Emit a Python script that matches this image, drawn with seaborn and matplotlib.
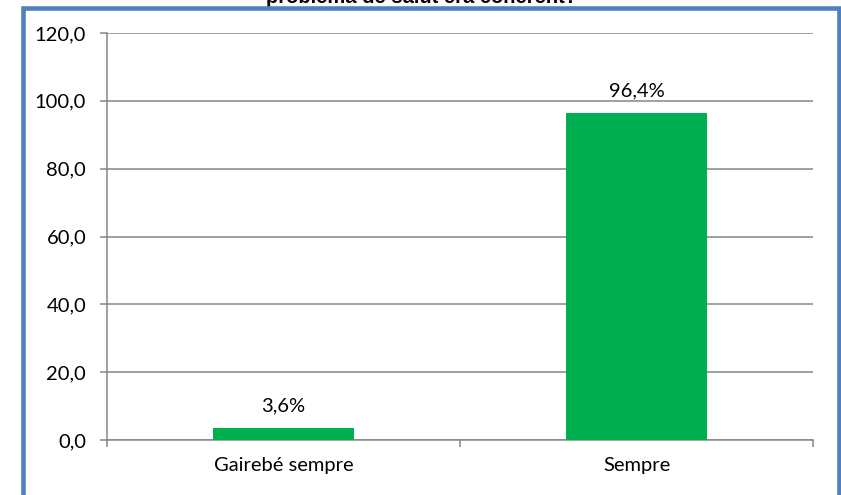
import matplotlib
matplotlib.use("Agg")
import matplotlib.pyplot as plt
import matplotlib.patches as patches
import seaborn as sns
import pandas as pd

# data
categories = ["Gairebé sempre", "Sempre"]
values = [3.6, 96.4]
yticks = [0, 20, 40, 60, 80, 100, 120]
title = "problema de salut era coherent?"

df = pd.DataFrame({"cat": categories, "val": values})

sns.set_style("white")
plt.rcParams["font.family"] = ["Lato", "DejaVu Sans"]
plt.rcParams["text.color"] = "black"
plt.rcParams["xtick.color"] = "black"
plt.rcParams["ytick.color"] = "black"

fig = plt.figure(figsize=(8.41, 4.95), dpi=100)
ax = fig.add_axes([107 / 841, 55 / 495, 706 / 841, 407 / 495])

sns.barplot(data=df, x="cat", y="val", color="#00B050", width=0.4,
            saturation=1, linewidth=0, ax=ax, zorder=3)

ax.set_xlim(-0.5, 1.5)
ax.set_ylim(0, 120)
ax.set_yticks(yticks)
ax.set_yticklabels([f"{t:.1f}".replace(".", ",") for t in yticks], fontsize=14.5)
ax.yaxis.grid(True, color="#868686", linewidth=1.1, zorder=0)
ax.set_axisbelow(True)

# category boundaries as major ticks, labels on minor ticks
ax.set_xticks([-0.5, 0.5, 1.5])
ax.set_xticklabels(["", "", ""])
ax.set_xticks([0, 1], minor=True)
ax.set_xticklabels(categories, minor=True, fontsize=14.5)
ax.tick_params(axis="x", which="major", length=5, color="#868686", width=1.1, direction="out", bottom=True)
ax.tick_params(axis="x", which="minor", length=0, pad=12)
ax.tick_params(axis="y", length=5, color="#868686", width=1.1, direction="out", left=True, pad=10)

for s in ["top", "right"]:
    ax.spines[s].set_visible(False)
for s in ["left", "bottom"]:
    ax.spines[s].set_color("#868686")
    ax.spines[s].set_linewidth(1.1)

ax.set_xlabel("")
ax.set_ylabel("")

for i, v in enumerate(values):
    ax.text(i, v + 4, f"{v:.1f}%".replace(".", ","), ha="center", va="bottom", fontsize=14.5)

# title, cut off at the top edge as in the reference
fig.text(421 / 841, 1 - 3 / 495, title, ha="center", va="baseline", fontsize=14.5,
         fontweight="bold", family=["Liberation Sans", "DejaVu Sans"])

# blue frame around the chart (bottom edge off the image)
frame = patches.Rectangle((22.5 / 841, -0.1), (838.5 - 22.5) / 841, 1.1 - 7.5 / 495,
                          transform=fig.transFigure, fill=False,
                          edgecolor="#4F81BD", linewidth=3.3, zorder=10)
fig.patches.append(frame)

fig.savefig("out.png", dpi=100)
plt.close()
